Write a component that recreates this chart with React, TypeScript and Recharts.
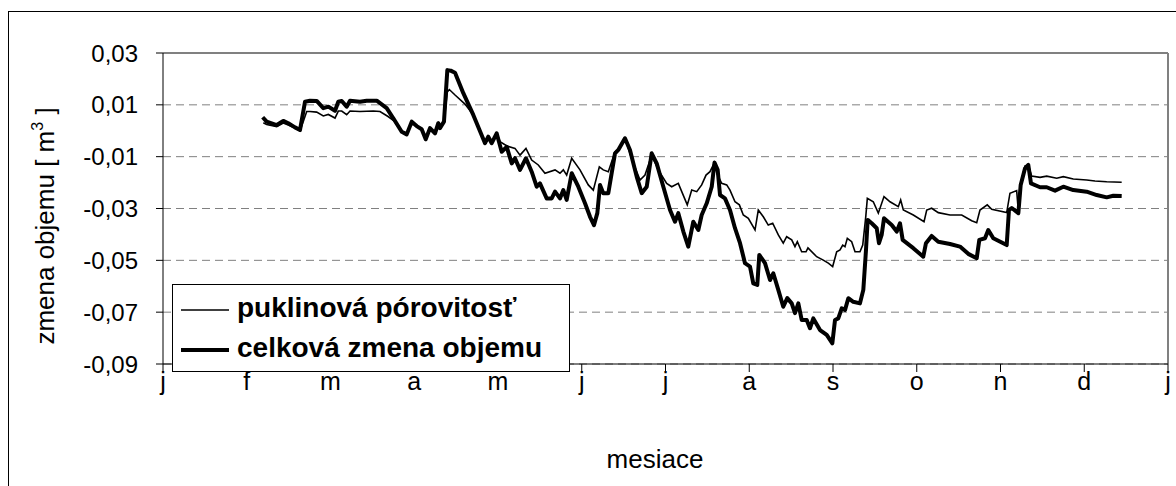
import React from "react";
import { CartesianGrid, Line, LineChart, ReferenceLine, XAxis, YAxis } from "recharts";

/* month letters on the x axis, one tick per month start */
const monthLabels = ["j", "f", "m", "a", "m", "j", "j", "a", "s", "o", "n", "d", "j"];
const monthTicks = [0, 1, 2, 3, 4, 5, 6, 7, 8, 9, 10, 11, 12];
const volumeTicks = [0.03, 0.01, -0.01, -0.03, -0.05, -0.07, -0.09];

/* puklinová pórovitosť (thin line): time in months, value in m3 */
const crackMonth = [
  1.198, 1.238, 1.358, 1.436, 1.496, 1.576, 1.636, 1.716, 1.755, 1.835, 1.914, 1.974, 2.054, 2.093, 2.134,
  2.193, 2.233, 2.352, 2.511, 2.591, 2.687, 2.758, 2.85, 2.91, 2.97, 3.029, 3.089, 3.137, 3.188, 3.248,
  3.287, 3.307, 3.355, 3.395, 3.419, 3.487, 3.606, 3.705, 3.845, 3.884, 3.925, 3.984, 4.024, 4.107, 4.203,
  4.263, 4.334, 4.402, 4.481, 4.561, 4.681, 4.74, 4.78, 4.82, 4.88, 4.979, 5.078, 5.138, 5.21, 5.257,
  5.317, 5.397, 5.436, 5.516, 5.616, 5.696, 5.755, 5.835, 5.914, 6.014, 6.074, 6.153, 6.26, 6.313, 6.373,
  6.432, 6.484, 6.531, 6.585, 6.613, 6.671, 6.731, 6.77, 6.83, 6.882, 6.929, 6.989, 7.069, 7.108, 7.168,
  7.227, 7.28, 7.347, 7.406, 7.447, 7.507, 7.546, 7.574, 7.626, 7.678, 7.701, 7.805, 7.884, 7.944, 7.996,
  8.044, 8.084, 8.116, 8.143, 8.171, 8.223, 8.263, 8.322, 8.355, 8.391, 8.41, 8.481, 8.541, 8.609, 8.681,
  8.78, 8.808, 8.84, 8.959, 9.087, 9.119, 9.178, 9.257, 9.397, 9.537, 9.656, 9.716, 9.755, 9.842, 9.895,
  10.074, 10.113, 10.193, 10.213, 10.251, 10.293, 10.332, 10.372, 10.472, 10.552, 10.671, 10.75, 10.869,
  11.029, 11.128, 11.268, 11.447,
];
const crackValue = [
  0.0031, 0.0024, 0.0016, 0.003, 0.0022, 0.0011, -0.0001, 0.0074, 0.0074, 0.0072, 0.0057, 0.0063, 0.0049,
  0.0076, 0.0076, 0.0062, 0.0076, 0.0074, 0.0076, 0.0074, 0.0055, 0.0038, -0.0004, -0.0014, 0.0035, 0.0018,
  0.0006, -0.0033, 0.001, -0.001, 0.0029, 0.001, 0.0035, 0.015, 0.0159, 0.0138, 0.0103, 0.0061, -0.0048,
  -0.0023, -0.0048, -0.001, -0.0042, -0.0059, -0.0068, -0.0094, -0.0068, -0.0113, -0.0132, -0.0164, -0.0151,
  -0.0164, -0.0151, -0.0171, -0.0106, -0.0151, -0.0209, -0.0229, -0.0139, -0.0151, -0.0158, -0.0081, -0.0074,
  -0.0029, -0.0126, -0.019, -0.0171, -0.0094, -0.0151, -0.0203, -0.0216, -0.0203, -0.0286, -0.0229, -0.0235,
  -0.0209, -0.0171, -0.0158, -0.0123, -0.0164, -0.0203, -0.0209, -0.0229, -0.0274, -0.0286, -0.0325, -0.0338,
  -0.0383, -0.0306, -0.0332, -0.0364, -0.0357, -0.0402, -0.0434, -0.0409, -0.0421, -0.0447, -0.0428, -0.0467,
  -0.0467, -0.0452, -0.0486, -0.0499, -0.0511, -0.0524, -0.0467, -0.046, -0.0441, -0.0447, -0.0415, -0.0428,
  -0.0467, -0.0467, -0.0441, -0.0332, -0.0261, -0.0274, -0.0318, -0.0254, -0.0274, -0.0293, -0.0267, -0.0306,
  -0.0325, -0.0351, -0.0306, -0.0299, -0.0316, -0.0325, -0.0325, -0.0347, -0.0355, -0.0306, -0.0286, -0.0303,
  -0.0316, -0.0241, -0.0231, -0.031, -0.019, -0.0136, -0.0132, -0.0175, -0.018, -0.0175, -0.0183, -0.0177,
  -0.0186, -0.019, -0.0194, -0.0197, -0.0199,
];

/* celková zmena objemu (thick line) */
const totalMonth = [
  1.19, 1.238, 1.358, 1.436, 1.496, 1.576, 1.636, 1.696, 1.755, 1.835, 1.914, 1.974, 2.054, 2.093, 2.134,
  2.193, 2.233, 2.352, 2.432, 2.552, 2.671, 2.75, 2.85, 2.91, 2.97, 3.029, 3.089, 3.137, 3.188, 3.248,
  3.287, 3.307, 3.355, 3.395, 3.435, 3.487, 3.586, 3.705, 3.845, 3.884, 3.925, 3.984, 4.044, 4.104, 4.164,
  4.203, 4.263, 4.334, 4.402, 4.462, 4.501, 4.581, 4.641, 4.681, 4.74, 4.78, 4.82, 4.88, 4.959, 5.039,
  5.099, 5.146, 5.186, 5.218, 5.257, 5.317, 5.397, 5.436, 5.516, 5.576, 5.656, 5.716, 5.776, 5.835, 5.895,
  5.974, 6.054, 6.113, 6.153, 6.213, 6.272, 6.332, 6.392, 6.432, 6.492, 6.552, 6.585, 6.623, 6.651, 6.71,
  6.77, 6.83, 6.89, 6.949, 7.009, 7.048, 7.096, 7.12, 7.188, 7.248, 7.287, 7.347, 7.406, 7.454, 7.507,
  7.546, 7.586, 7.626, 7.686, 7.725, 7.765, 7.845, 7.925, 7.992, 8.024, 8.063, 8.104, 8.143, 8.183, 8.242,
  8.322, 8.362, 8.394, 8.414, 8.462, 8.522, 8.549, 8.581, 8.609, 8.701, 8.761, 8.8, 8.832, 8.959, 9.078,
  9.11, 9.178, 9.257, 9.397, 9.516, 9.615, 9.716, 9.747, 9.815, 9.854, 9.914, 10.074, 10.101, 10.134,
  10.213, 10.241, 10.293, 10.332, 10.364, 10.472, 10.552, 10.651, 10.75, 10.869, 11.029, 11.149, 11.268,
  11.347, 11.447,
];
const totalValue = [
  0.0052, 0.0035, 0.0022, 0.0038, 0.0029, 0.0013, 0.0003, 0.0112, 0.0116, 0.0115, 0.0087, 0.0093, 0.0077,
  0.0112, 0.0115, 0.0093, 0.0116, 0.0112, 0.0116, 0.0116, 0.0087, 0.0048, -0.0004, -0.0014, 0.0035, 0.0018,
  0.0006, -0.0033, 0.001, -0.001, 0.0029, 0.001, 0.0035, 0.0234, 0.0232, 0.0224, 0.0145, 0.0061, -0.0048,
  -0.0023, -0.0048, -0.001, -0.0081, -0.0062, -0.0126, -0.0106, -0.0151, -0.0106, -0.0158, -0.0216, -0.0203,
  -0.0261, -0.0261, -0.0235, -0.0261, -0.0229, -0.0267, -0.0164, -0.0216, -0.028, -0.0332, -0.0364, -0.0318,
  -0.0209, -0.0241, -0.0241, -0.0087, -0.0074, -0.0029, -0.0074, -0.0177, -0.0241, -0.0216, -0.0087, -0.0126,
  -0.0216, -0.0306, -0.0351, -0.0318, -0.0389, -0.0447, -0.0351, -0.0383, -0.0325, -0.028, -0.0216, -0.0123,
  -0.0151, -0.0248, -0.0261, -0.0306, -0.0376, -0.0434, -0.0511, -0.0524, -0.0589, -0.0595, -0.0479, -0.0511,
  -0.0576, -0.055, -0.0614, -0.0679, -0.0646, -0.0666, -0.0704, -0.0666, -0.073, -0.073, -0.0762, -0.0724,
  -0.0769, -0.0788, -0.082, -0.073, -0.0724, -0.0685, -0.0692, -0.0646, -0.066, -0.0666, -0.0614, -0.046,
  -0.0344, -0.0357, -0.0376, -0.0434, -0.0402, -0.0338, -0.0364, -0.0389, -0.0357, -0.0421, -0.0453, -0.0486,
  -0.0434, -0.0406, -0.0428, -0.0437, -0.0447, -0.0475, -0.0492, -0.0421, -0.0415, -0.0383, -0.0415, -0.0441,
  -0.0306, -0.0298, -0.0318, -0.0209, -0.0145, -0.0132, -0.0203, -0.0218, -0.0218, -0.0231, -0.0216, -0.0229,
  -0.0235, -0.0248, -0.0257, -0.0251, -0.0252,
];

const crackData = crackMonth.map((m, i) => ({ m, v: crackValue[i] }));
const totalData = totalMonth.map((m, i) => ({ m, v: totalValue[i] }));

const FONT = '"Liberation Sans", Arial, sans-serif';

const fmtVolume = (v: number) => v.toFixed(2).replace(".", ",");

export default function App() {
  return (
    <div
      style={{
        position: "fixed",
        left: 0,
        top: 0,
        width: 1176,
        height: 486,
        overflow: "hidden",
        background: "#fff",
        fontFamily: FONT,
        color: "#000",
      }}
    >
      {/* chart frame, right and bottom edges fall outside the picture */}
      <div
        style={{
          position: "absolute",
          left: 8,
          top: 11,
          width: 1300,
          height: 600,
          borderTop: "1px solid #000",
          borderLeft: "1px solid #000",
        }}
      />

      <div style={{ position: "absolute", left: 0, top: 0 }}>
        <LineChart width={1176} height={486} margin={{ top: 53, right: 8, bottom: 92, left: 103 }}>
          <CartesianGrid vertical={false} stroke="#808080" strokeDasharray="8 5" />
          <XAxis
            type="number"
            dataKey="m"
            domain={[0, 12]}
            ticks={monthTicks}
            interval={0}
            tickFormatter={(t: number) => monthLabels[t]}
            height={30}
            tickSize={8}
            tickMargin={0}
            stroke="#000"
            tick={{ fill: "#000", fontSize: 25, fontFamily: FONT }}
            allowDataOverflow
          />
          <YAxis
            type="number"
            domain={[-0.09, 0.03]}
            ticks={volumeTicks}
            interval={0}
            tickFormatter={fmtVolume}
            width={60}
            tickSize={7}
            tickMargin={18}
            stroke="#000"
            tick={{ fill: "#000", fontSize: 24, fontFamily: FONT }}
            allowDataOverflow
          />
          <ReferenceLine y={0.03} stroke="#808080" strokeWidth={2} />
          <ReferenceLine x={12} stroke="#808080" strokeWidth={2} />
          <Line
            data={crackData}
            dataKey="v"
            type="linear"
            stroke="#000"
            strokeWidth={1.6}
            dot={false}
            activeDot={false}
            isAnimationActive={false}
          />
          <Line
            data={totalData}
            dataKey="v"
            type="linear"
            stroke="#000"
            strokeWidth={4}
            strokeLinejoin="round"
            dot={false}
            activeDot={false}
            isAnimationActive={false}
          />
        </LineChart>
      </div>

      {/* y axis title */}
      <div
        style={{
          position: "absolute",
          left: 45,
          top: 226,
          transform: "translate(-50%, -50%) rotate(-90deg)",
          whiteSpace: "nowrap",
          fontSize: 26,
          lineHeight: 1,
        }}
      >
        zmena objemu [ m<span style={{ fontSize: 16, position: "relative", top: -11 }}>3</span> ]
      </div>

      {/* x axis title */}
      <div
        style={{
          position: "absolute",
          left: 655,
          top: 459,
          transform: "translate(-50%, -50%)",
          whiteSpace: "nowrap",
          fontSize: 26,
          lineHeight: 1,
        }}
      >
        mesiace
      </div>

      {/* legend */}
      <div
        style={{
          position: "absolute",
          left: 172,
          top: 284,
          width: 398,
          height: 88,
          boxSizing: "border-box",
          border: "1px solid #000",
          background: "#fff",
        }}
      >
        <svg width={60} height={88} style={{ position: "absolute", left: 0, top: 0 }}>
          <line x1={8} x2={56} y1={25} y2={25} stroke="#000" strokeWidth={1.6} />
          <line x1={8} x2={56} y1={65} y2={65} stroke="#000" strokeWidth={4} />
        </svg>
        <div
          style={{
            position: "absolute",
            left: 64,
            top: 9,
            fontSize: 28,
            fontWeight: "bold",
            lineHeight: 1,
            whiteSpace: "nowrap",
          }}
        >
          puklinová pórovitosť
        </div>
        <div
          style={{
            position: "absolute",
            left: 64,
            top: 49,
            fontSize: 28,
            fontWeight: "bold",
            lineHeight: 1,
            whiteSpace: "nowrap",
          }}
        >
          celková zmena objemu
        </div>
      </div>
    </div>
  );
}
